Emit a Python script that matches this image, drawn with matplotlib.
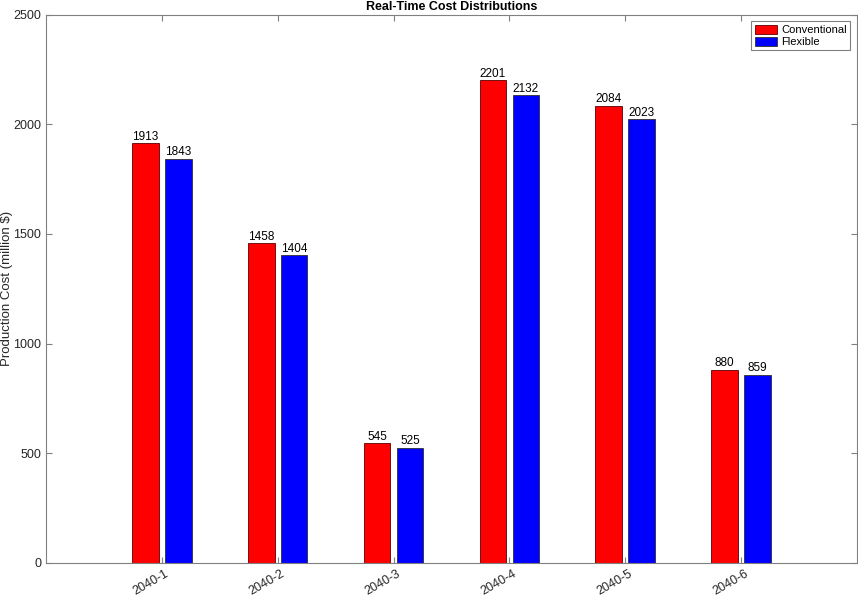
import numpy as np
import matplotlib.pyplot as plt
import matplotlib.transforms as mtransforms

plt.rcParams['font.family'] = ['Liberation Sans', 'DejaVu Sans']

# data
categories = ["2040-1", "2040-2", "2040-3", "2040-4", "2040-5", "2040-6"]
conventional = [1913, 1458, 545, 2201, 2084, 880]
flexible = [1843, 1404, 525, 2132, 2023, 859]

fig = plt.figure(figsize=(8.58, 5.97), dpi=100)
ax = fig.add_axes([0.0536, 0.057, 0.9452, 0.9187])

x = np.arange(1, len(categories) + 1)
offset = 0.142
width = 0.23

bars_c = ax.bar(x - offset, conventional, width, color="red", edgecolor="#5a0000",
                linewidth=0.6, label="Conventional")
bars_f = ax.bar(x + offset, flexible, width, color="blue", edgecolor="#303030",
                linewidth=0.6, label="Flexible")

# value labels on top of each bar
for bars in (bars_c, bars_f):
    for b in bars:
        ax.text(b.get_x() + b.get_width() / 2, b.get_height() + 2, f"{int(b.get_height())}",
                ha="center", va="bottom", fontsize=8.5, color="black")

ax.set_xlim(0, 7)
ax.set_ylim(0, 2500)
ax.set_xticks(x)
ax.set_xticklabels(categories, rotation=30, ha="right", va="center", rotation_mode="anchor")
ax.set_yticks(np.arange(0, 2501, 500))

axis_col = "#808080"
for s in ax.spines.values():
    s.set_color(axis_col)
    s.set_linewidth(0.8)
ax.tick_params(axis="both", direction="in", colors=axis_col, labelcolor="#262626",
               labelsize=9, length=4, top=True, right=True)
ax.tick_params(axis="x", pad=7)

# shift the rotated tick labels a little to the right, like the reference
shift = mtransforms.ScaledTranslation(6 / 100, 0, fig.dpi_scale_trans)
for lbl in ax.get_xticklabels():
    lbl.set_transform(lbl.get_transform() + shift)

ax.set_ylabel("Production Cost (million $)", fontsize=9.5, color="#262626")
ax.yaxis.set_label_coords(-0.041, 0.5)
ax.set_title("Real-Time Cost Distributions", fontsize=9, fontweight="bold", pad=3)

leg = ax.legend(loc="upper right", fontsize=8, fancybox=False, framealpha=1,
                edgecolor=axis_col, handlelength=2.0, handleheight=0.9,
                borderpad=0.3, labelspacing=0.15, handletextpad=0.4,
                borderaxespad=0.6)
leg.get_frame().set_linewidth(0.8)

fig.savefig("out.png", dpi=100)
